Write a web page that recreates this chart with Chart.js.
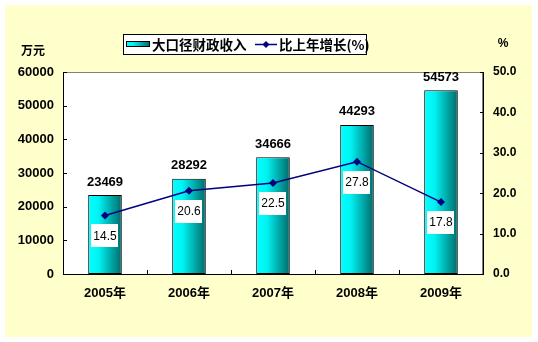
<!DOCTYPE html>
<html><head><meta charset="utf-8">
<script src="https://cdn.jsdelivr.net/npm/chart.js@4.4.1/dist/chart.umd.min.js"></script>
<style>html,body{margin:0;padding:0;background:#fff}#wrap{width:538px;height:342px}</style>
</head><body><div id="wrap"><canvas id="c" width="538" height="342"></canvas></div>
<script>
const categories = ['2005年','2006年','2007年','2008年','2009年'];
const revenue = [23469, 28292, 34666, 44293, 54573];
const growth = [14.5, 20.6, 22.5, 27.8, 17.8];
const revenueLabel = '大口径财政收入';
const growthLabel = '比上年增长(%)';
const leftUnit = '万元';
const rightUnit = '%';
const leftMax = 60000, leftStep = 10000;
const rightMax = 50, rightStep = 10;

const NUM = '"Liberation Sans", Arial, sans-serif';
const CJK = '"Noto Sans CJK SC", sans-serif';

function barGradient(ctx, x0, x1) {
  const g = ctx.createLinearGradient(x0, 0, x1, 0);
  g.addColorStop(0, '#00FFFF');
  g.addColorStop(0.3, '#00F4F4');
  g.addColorStop(1, '#006A6A');
  return g;
}

const decor = {
  id: 'decor',
  beforeDraw(chart) {
    const c = chart.ctx, a = chart.chartArea;
    c.save();
    c.fillStyle = '#FFFFFF'; c.fillRect(0, 0, chart.width, chart.height);
    c.fillStyle = '#FFFFCC'; c.fillRect(5, 5, 527, 332);
    c.fillStyle = '#FFFFFF'; c.fillRect(a.left, a.top, a.right - a.left, a.bottom - a.top);
    c.strokeStyle = '#808080'; c.lineWidth = 1;
    c.strokeRect(a.left + 0.5, a.top + 0.5, a.right - a.left - 1, a.bottom - a.top);
    c.restore();
  },
  afterDatasetsDraw(chart) {
    const c = chart.ctx, a = chart.chartArea;
    const y = chart.scales.y, y1 = chart.scales.y1, x = chart.scales.x;
    c.save();
    c.strokeStyle = '#000'; c.lineWidth = 1;
    c.beginPath();
    c.moveTo(a.left + 0.5, a.top); c.lineTo(a.left + 0.5, a.bottom + 0.5);
    c.moveTo(a.left, a.bottom + 0.5); c.lineTo(a.right + 0.5, a.bottom + 0.5);
    c.moveTo(a.right + 0.5, a.top); c.lineTo(a.right + 0.5, a.bottom + 0.5);
    for (let v = 0; v <= leftMax; v += leftStep) {
      const py = Math.round(y.getPixelForValue(v)) + 0.5;
      c.moveTo(a.left, py); c.lineTo(a.left + 4, py);
    }
    for (let v = 0; v <= rightMax; v += rightStep) {
      const py = Math.round(y1.getPixelForValue(v)) + 0.5;
      c.moveTo(a.right + 1, py); c.lineTo(a.right - 3, py);
    }
    for (let i = 0; i < categories.length - 1; i++) {
      const px = Math.round((x.getPixelForValue(i) + x.getPixelForValue(i + 1)) / 2) + 0.5;
      c.moveTo(px, a.bottom); c.lineTo(px, a.bottom - 4);
    }
    c.stroke();

    const bm = chart.getDatasetMeta(0);
    c.fillStyle = '#000'; c.font = 'bold 13px ' + NUM;
    c.textAlign = 'center'; c.textBaseline = 'middle';
    bm.data.forEach((el, i) => { c.fillText(String(revenue[i]), el.x, el.y - 13); });

    const lm = chart.getDatasetMeta(1);
    c.font = '12px ' + NUM;
    lm.data.forEach((el, i) => {
      const t = growth[i].toFixed(1);
      const cy = el.y + 20;
      const w = c.measureText(t).width + 4;
      c.fillStyle = '#FFF';
      c.fillRect(Math.round(el.x - w / 2), Math.round(cy - 11), Math.round(w), 23);
      c.fillStyle = '#000';
      c.fillText(t, el.x, cy + 1);
    });
    c.restore();
  },
  afterDraw(chart) {
    const c = chart.ctx;
    c.save();
    c.fillStyle = '#000'; c.textBaseline = 'middle'; c.textAlign = 'center';
    c.font = 'bold 12px ' + CJK;
    c.fillText(leftUnit, 33, 50);
    c.font = 'bold 12px ' + NUM;
    c.fillText(rightUnit, 503, 44);
    c.fillStyle = '#FFF'; c.fillRect(123, 34, 243, 20);
    c.strokeStyle = '#000'; c.lineWidth = 1; c.strokeRect(123.5, 34.5, 243, 20);
    c.fillStyle = barGradient(c, 126, 150); c.fillRect(126, 41, 24, 6);
    c.strokeRect(126.5, 41.5, 23, 5);
    c.fillStyle = '#000'; c.textAlign = 'left';
    c.font = 'bold 13.5px ' + CJK;
    c.fillText(revenueLabel, 152, 44.5);
    c.strokeStyle = '#000080'; c.lineWidth = 1.5;
    c.beginPath(); c.moveTo(255, 44.5); c.lineTo(277, 44.5); c.stroke();
    c.fillStyle = '#000080';
    c.beginPath(); c.moveTo(266, 41); c.lineTo(269.5, 44.5); c.lineTo(266, 48); c.lineTo(262.5, 44.5); c.closePath(); c.fill();
    c.fillStyle = '#000';
    c.fillText(growthLabel, 279, 44.5);
    c.restore();
  }
};

new Chart(document.getElementById('c'), {
  data: {
    labels: categories,
    datasets: [
      {
        type: 'bar', label: revenueLabel, data: revenue, yAxisID: 'y', order: 2,
        backgroundColor: (ctx) => {
          const ch = ctx.chart;
          if (!ch.chartArea || ctx.dataIndex === undefined) return '#00FFFF';
          const xs = ch.scales.x;
          const cx = xs.getPixelForValue(ctx.dataIndex);
          const hw = (ch.chartArea.right - ch.chartArea.left) / categories.length * 0.4 / 2;
          return barGradient(ch.ctx, cx - hw, cx + hw);
        },
        borderColor: '#000', borderWidth: 1, borderSkipped: false,
        barPercentage: 0.4, categoryPercentage: 1
      },
      {
        type: 'line', label: growthLabel, data: growth, yAxisID: 'y1', order: 1,
        borderColor: '#000080', borderWidth: 1.5, tension: 0,
        pointStyle: 'rectRot', pointRadius: 4, pointBackgroundColor: '#000080',
        pointBorderColor: '#000080', pointBorderWidth: 0
      }
    ]
  },
  options: {
    responsive: false, animation: false,
    devicePixelRatio: 1,
    layout: { padding: { top: 72, left: 0, right: 0, bottom: 0 } },
    plugins: { legend: { display: false }, tooltip: { enabled: false } },
    scales: {
      x: {
        offset: true,
        grid: { display: false, drawTicks: false },
        border: { display: false },
        ticks: { color: '#000', padding: 12, font: { family: NUM + ',' + CJK, size: 13, weight: 'bold' }, maxRotation: 0 },
        afterFit: (s) => { s.height = 68; }
      },
      y: {
        position: 'left', min: 0, max: leftMax,
        grid: { display: false, drawTicks: false },
        border: { display: false },
        ticks: { stepSize: leftStep, color: '#000', padding: 9, font: { family: NUM, size: 13, weight: 'bold' }, callback: (v) => String(v) },
        afterFit: (s) => { s.width = 63; }
      },
      y1: {
        position: 'right', min: 0, max: rightMax,
        grid: { display: false, drawTicks: false },
        border: { display: false },
        ticks: { stepSize: rightStep, color: '#000', padding: 10, font: { family: NUM, size: 12, weight: 'bold' }, callback: (v) => Number(v).toFixed(1) },
        afterFit: (s) => { s.width = 55; }
      }
    }
  },
  plugins: [decor]
});
</script></body></html>
